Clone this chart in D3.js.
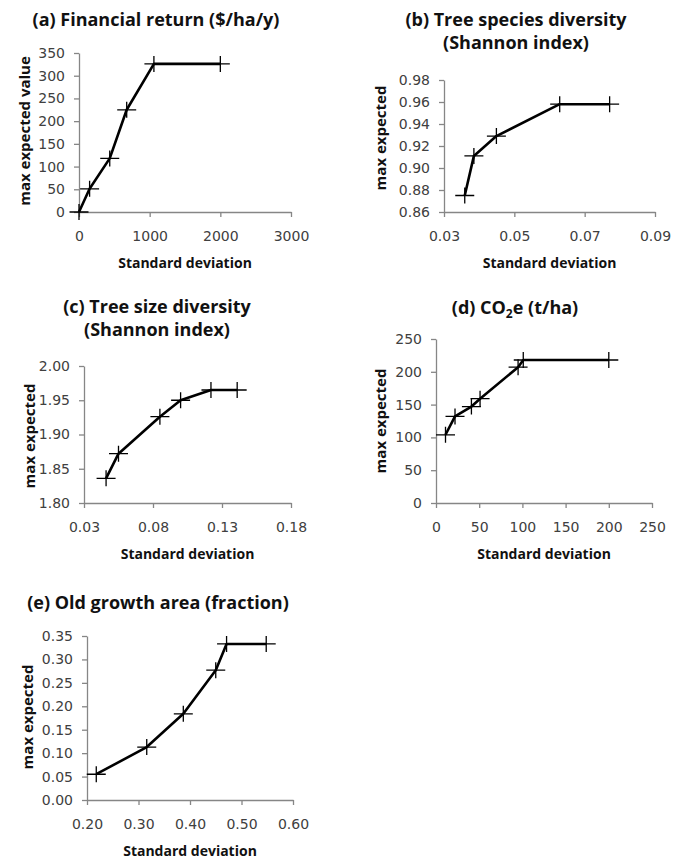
<!DOCTYPE html>
<html>
<head>
<meta charset="utf-8">
<script src="https://cdn.jsdelivr.net/npm/d3@7"></script>
<style>
  body { margin: 0; background: #fff; }
</style>
</head>
<body>
<script>
// values
var finSD = [0, 150, 435, 675, 1060, 2000];
var finMax = [0, 51, 118, 225, 326, 326];
var finXTicks = [0, 1000, 2000, 3000];
var finYTicks = [0, 50, 100, 150, 200, 250, 300, 350];

var specSD = [0.0359, 0.0385, 0.0449, 0.0629, 0.0771];
var specMax = [0.875, 0.911, 0.929, 0.958, 0.958];
var specXTicks = [0.03, 0.05, 0.07, 0.09];
var specYTicks = [0.86, 0.88, 0.90, 0.92, 0.94, 0.96, 0.98];

var sizeSD = [0.046, 0.055, 0.085, 0.100, 0.122, 0.141];
var sizeMax = [1.836, 1.872, 1.926, 1.950, 1.965, 1.965];
var sizeXTicks = [0.03, 0.08, 0.13, 0.18];
var sizeYTicks = [1.80, 1.85, 1.90, 1.95, 2.00];

var co2SD = [11, 22, 41, 51, 95, 101, 200];
var co2Max = [104, 132, 147, 159, 207, 218, 218];
var co2XTicks = [0, 50, 100, 150, 200, 250];
var co2YTicks = [0, 50, 100, 150, 200, 250];

var oldSD = [0.218, 0.316, 0.387, 0.450, 0.471, 0.548];
var oldMax = [0.055, 0.113, 0.184, 0.277, 0.333, 0.333];
var oldXTicks = [0.2, 0.3, 0.4, 0.5, 0.6];
var oldYTicks = [0, 0.05, 0.10, 0.15, 0.20, 0.25, 0.30, 0.35];

var xTitle = "Standard deviation";

var panels = [
  {title: ["(a) Financial return ($/ha/y)"], yLabel: "max expected value",
   xs: finSD, ys: finMax, xt: finXTicks, yt: finYTicks, xf: "d", yf: "d",
   box: [79, 291, 53, 212], tx: 156, ty: 26, ylx: 30, yly: 131},
  {title: ["(b) Tree species diversity", "(Shannon index)"], yLabel: "max expected",
   xs: specSD, ys: specMax, xt: specXTicks, yt: specYTicks, xf: ".2f", yf: ".2f",
   box: [444, 655, 80, 212], tx: 516, ty: 26, ylx: 386, yly: 138},
  {title: ["(c) Tree size diversity", "(Shannon index)"], yLabel: "max expected",
   xs: sizeSD, ys: sizeMax, xt: sizeXTicks, yt: sizeYTicks, xf: ".2f", yf: ".2f",
   box: [84, 291, 366, 503], tx: 157, ty: 313, ylx: 35, yly: 436},
  {title: ["(d) CO", "2", "e (t/ha)"], sub: true, yLabel: "max expected",
   xs: co2SD, ys: co2Max, xt: co2XTicks, yt: co2YTicks, xf: "d", yf: "d",
   box: [436, 652, 339, 503], tx: 515, ty: 314, ylx: 386, yly: 421},
  {title: ["(e) Old growth area (fraction)"], yLabel: "max expected",
   xs: oldSD, ys: oldMax, xt: oldXTicks, yt: oldYTicks, xf: ".2f", yf: ".2f",
   box: [87, 293, 636, 800], tx: 158, ty: 609, ylx: 33, yly: 717}
];

var svg = d3.select("body").append("svg")
  .attr("width", 681)
  .attr("height", 859);

svg.append("rect").attr("width", 681).attr("height", 859).attr("fill", "#fff");

var axisGrey = "#868686";
var labelGrey = "#404040";
var boldFont = "'Open Sans', Lato, sans-serif";

panels.forEach(function(p) {
  var g = svg.append("g");
  var x = d3.scaleLinear().domain(d3.extent(p.xt)).range([p.box[0], p.box[1]]);
  var y = d3.scaleLinear().domain(d3.extent(p.yt)).range([p.box[3], p.box[2]]);

  // axes
  var xAxis = g.append("g")
    .attr("transform", `translate(0,${p.box[3]})`)
    .call(d3.axisBottom(x).tickValues(p.xt).tickFormat(d3.format(p.xf))
      .tickSize(5).tickSizeOuter(0).tickPadding(14));
  var yAxis = g.append("g")
    .attr("transform", `translate(${p.box[0]},0)`)
    .call(d3.axisLeft(y).tickValues(p.yt).tickFormat(d3.format(p.yf))
      .tickSize(5).tickSizeOuter(0).tickPadding(9));

  [xAxis, yAxis].forEach(function(a) {
    a.select(".domain").attr("stroke", axisGrey).attr("stroke-width", 1.3);
    a.selectAll(".tick line").attr("stroke", axisGrey).attr("stroke-width", 1.3);
    a.selectAll(".tick text")
      .attr("fill", labelGrey)
      .style("font-family", "'DejaVu Sans', sans-serif")
      .style("font-size", "14px");
  });

  // line + markers
  var pts = p.xs.map(function(v, i) { return [v, p.ys[i]]; });
  g.append("path")
    .datum(pts)
    .attr("fill", "none")
    .attr("stroke", "#000")
    .attr("stroke-width", 2.6)
    .attr("stroke-linejoin", "round")
    .attr("d", d3.line().x(d => x(d[0])).y(d => y(d[1])));

  g.selectAll(".mark")
    .data(pts)
    .enter()
    .append("path")
    .attr("class", "mark")
    .attr("transform", d => `translate(${x(d[0])},${y(d[1])})`)
    .attr("d", "M-9.5,0H9.5M0,-8V8")
    .attr("stroke", "#000")
    .attr("stroke-width", 1.3);

  // panel title
  var t = g.append("text")
    .attr("text-anchor", "middle")
    .style("font-family", boldFont)
    .style("font-weight", "bold")
    .style("font-size", "18px")
    .attr("fill", "#111");
  if (p.sub) {
    t.attr("x", p.tx).attr("y", p.ty);
    t.append("tspan").text(p.title[0]);
    t.append("tspan").attr("dy", 4).style("font-size", "12px").text(p.title[1]);
    t.append("tspan").attr("dy", -4).text(p.title[2]);
  } else {
    p.title.forEach(function(line, i) {
      t.append("tspan").attr("x", p.tx).attr("y", p.ty + i * 23).text(line);
    });
  }

  // axis titles
  g.append("text")
    .attr("x", (p.box[0] + p.box[1]) / 2)
    .attr("y", p.box[3] + 56)
    .attr("text-anchor", "middle")
    .style("font-family", boldFont)
    .style("font-weight", "bold")
    .style("font-size", "14px")
    .attr("fill", "#111")
    .text(xTitle);

  g.append("text")
    .attr("transform", `translate(${p.ylx},${p.yly})rotate(-90)`)
    .attr("text-anchor", "middle")
    .style("font-family", boldFont)
    .style("font-weight", "bold")
    .style("font-size", "15px")
    .attr("fill", "#111")
    .text(p.yLabel);
});
</script>
</body>
</html>
